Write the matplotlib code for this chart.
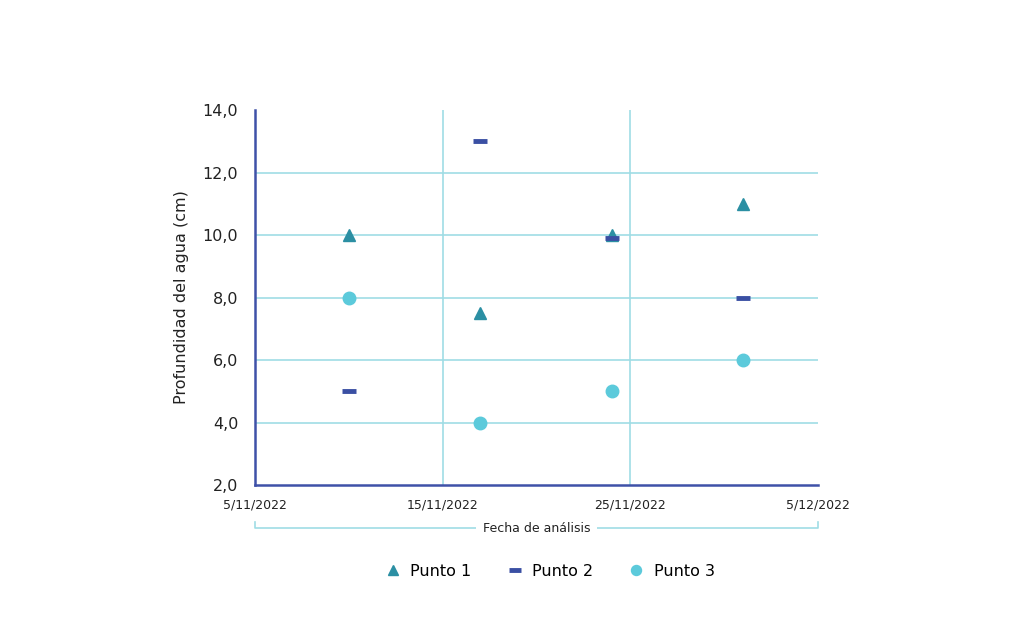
import matplotlib
matplotlib.use('Agg')
import matplotlib.pyplot as plt
import datetime as dt

plt.rcParams['font.family'] = ['DejaVu Sans']

# datos
fechas = [dt.date(2022, 11, 10), dt.date(2022, 11, 17), dt.date(2022, 11, 24), dt.date(2022, 12, 1)]
punto1 = [10.0, 7.5, 10.0, 11.0]
punto2 = [5.0, 13.0, 9.9, 8.0]
punto3 = [8.0, 4.0, 5.0, 6.0]

ticks_x = [dt.date(2022, 11, 5), dt.date(2022, 11, 15), dt.date(2022, 11, 25), dt.date(2022, 12, 5)]
ticks_x_labels = ['5/11/2022', '15/11/2022', '25/11/2022', '5/12/2022']
ticks_y = [2, 4, 6, 8, 10, 12, 14]

c_p1 = '#2B8FA3'
c_p2 = '#3A4FA3'
c_p3 = '#5CCADB'
c_grid = '#9FDDE5'
c_axis = '#3F51A8'

fig = plt.figure(figsize=(10.24, 6.37), dpi=100)
ax = fig.add_axes([0.249, 0.2386, 0.550, 0.5887])

# rejilla
for y in ticks_y[1:-1]:
    ax.axhline(y, color=c_grid, lw=1.2, zorder=1)
for x in ticks_x[1:-1]:
    ax.axvline(x, color=c_grid, lw=1.2, zorder=1)

ax.plot(fechas, punto1, linestyle='none', marker='^', ms=9, color=c_p1, label='Punto 1', zorder=3)
ax.plot(fechas, punto2, linestyle='none', marker='_', ms=10, mew=3.5, color=c_p2, label='Punto 2', zorder=3)
ax.plot(fechas, punto3, linestyle='none', marker='o', ms=9, color=c_p3, label='Punto 3', zorder=3)

ax.set_xlim(ticks_x[0], ticks_x[-1])
ax.set_ylim(2, 14)
ax.set_xticks(ticks_x)
ax.set_xticklabels(ticks_x_labels, fontsize=9, color='#222222')
ax.set_yticks(ticks_y)
ax.yaxis.set_major_formatter(matplotlib.ticker.FuncFormatter(lambda v, p: ('%.1f' % v).replace('.', ',')))
ax.tick_params(axis='y', labelsize=11.5, labelcolor='#222222')
ax.tick_params(axis='x', length=0, pad=10)
ax.tick_params(axis='y', length=0, pad=12)

for s in ['top', 'right']:
    ax.spines[s].set_visible(False)
for s in ['left', 'bottom']:
    ax.spines[s].set_color(c_axis)
    ax.spines[s].set_linewidth(1.8)

ax.set_ylabel('Profundidad del agua (cm)', fontsize=11.5, color='#222222', labelpad=10)

# corchete bajo el eje x
yb = -0.115
ax.plot([0, 0, 1, 1], [yb + 0.016, yb, yb, yb + 0.016], transform=ax.transAxes,
        color=c_grid, lw=1.2, clip_on=False)
ax.text(0.5, yb, 'Fecha de análisis', transform=ax.transAxes, ha='center', va='center',
        fontsize=9, color='#222222',
        bbox=dict(facecolor='white', edgecolor='none', pad=5))

fig.legend(loc='center', bbox_to_anchor=(0.537, 0.103), ncol=3, frameon=False,
           fontsize=11.5, handlelength=1.0, columnspacing=2.2, handletextpad=0.6,
           markerscale=0.8)

fig.savefig('out.png', dpi=100)
